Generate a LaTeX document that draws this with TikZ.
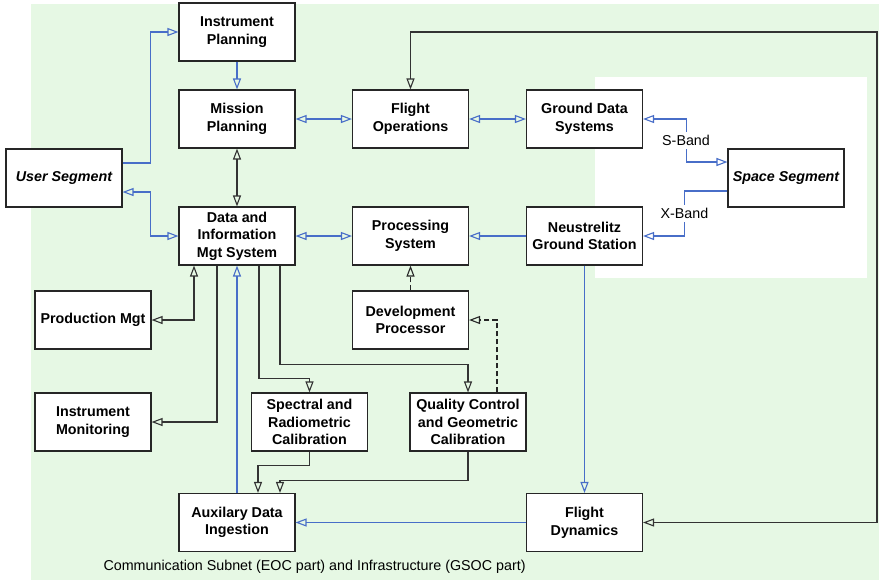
\documentclass[tikz,border=0pt]{standalone}
\usepackage{fontspec}
\setmainfont{Liberation Sans}
\usetikzlibrary{arrows.meta}
\definecolor{bggreen}{RGB}{230,248,228}
\definecolor{linkblue}{RGB}{72,110,200}

\begin{document}
\begin{tikzpicture}[
            x=0.5pt, y=-0.5pt, line width=0.55pt,
            >={Triangle[open, length=5.5pt, width=4pt]},
            box/.style={draw=black!85, fill=white, rectangle, minimum width=58pt, minimum height=29pt, inner sep=0pt, align=center, font=\fontsize{7.15}{8.8}\selectfont\bfseries},
            seg/.style={box, font=\fontsize{7.15}{8.8}\selectfont\bfseries\itshape},
            link/.style={draw=black!80},
            bluelink/.style={draw=linkblue},
            devlink/.style={draw=black!85, dash pattern=on 2.5pt off 1.5pt},
            band/.style={fill=white, inner sep=1.5pt, font=\fontsize{7.15}{8.8}\selectfont},
            caption/.style={anchor=west, inner sep=0pt, font=\fontsize{7.15}{8.8}\selectfont}
        ]

        \useasboundingbox (0, 0) rectangle (879, 580);
        \fill [bggreen] (31, 4) rectangle (879, 580);
        \fill [white] (595, 77) rectangle (867, 278);

        \node [box] (IP) at (237, 32) {Instrument\\Planning};
        \node [box] (MP) at (237, 119) {Mission\\Planning};
        \node [box] (FO) at (410.5, 119) {Flight\\Operations};
        \node [box] (GDS) at (584.5, 119) {Ground Data\\Systems};
        \node [seg] (US) at (64, 178) {User Segment};
        \node [seg] (SS) at (786, 178) {Space Segment};
        \node [box] (DIMS) at (237, 236) {Data and\\Information\\Mgt System};
        \node [box] (PS) at (410.5, 236) {Processing\\System};
        \node [box] (NGS) at (584.5, 236) {Neustrelitz\\Ground Station};
        \node [box] (PM) at (93, 320) {Production Mgt};
        \node [box] (DP) at (410.5, 320) {Development\\Processor};
        \node [box] (IM) at (93, 422) {Instrument\\Monitoring};
        \node [box] (SRC) at (309.5, 422) {Spectral and\\Radiometric\\Calibration};
        \node [box] (QC) at (468, 422) {Quality Control\\and Geometric\\Calibration};
        \node [box] (ADI) at (237, 522.5) {Auxilary Data\\Ingestion};
        \node [box] (FD) at (584.5, 522.5) {Flight\\Dynamics};
        \node [caption] (cap) at (103, 567) {Communication Subnet (EOC part) and Infrastructure (GSOC part)};

        \coordinate (ne) at (877, 32);

        % blue links
        \draw [bluelink, ->] ([yshift=7.5pt]US.east) -- ++(28, 0) |- (IP.west);
        \draw [bluelink, <->] ([yshift=-7pt]US.east) -- ++(28, 0) |- (DIMS.west);
        \draw [bluelink, ->] (IP) -- (MP);
        \draw [bluelink, <->] (MP) -- (FO);
        \draw [bluelink, <->] (FO) -- (GDS);
        \draw [bluelink, <->] (GDS.east) -- ++(43, 0) |- node [band, pos=0.25] {S-Band} ([yshift=8pt]SS.west);
        \draw [bluelink, ->] ([yshift=-6.5pt]SS.west) -- ++(-43, 0) |- node [band, pos=0.25] {X-Band} (NGS.east);
        \draw [bluelink, <->] (DIMS) -- (PS);
        \draw [bluelink, ->] (NGS) -- (PS);
        \draw [bluelink, ->] (ADI) -- (DIMS);
        \draw [bluelink, ->] (NGS) -- (FD);
        \draw [bluelink, ->] (FD) -- (ADI);

        % black links
        \draw [link, <->] (MP) -- (DIMS);
        \draw [link, <->] (PM.east) -| ([xshift=-21.5pt]DIMS.south);
        \draw [link, ->] ([xshift=-10pt]DIMS.south) |- (IM.east);
        \draw [link, ->] ([xshift=11pt]DIMS.south) -- ++(0, 113) -| (SRC.north);
        \draw [link, ->] ([xshift=21.5pt]DIMS.south) -- ++(0, 99) -| (QC.north);
        \draw [link, ->] (SRC.south) -- ++(0, 14) -| ([xshift=10.5pt]ADI.north);
        \draw [link, ->] (QC.south) -- ++(0, 29) -| ([xshift=21.5pt]ADI.north);
        \draw [link, <->] (FO.north) |- (ne) |- (FD.east);
        \draw [devlink, ->] (DP) -- (PS);
        \draw [devlink, ->] ([xshift=14.5pt]QC.north) |- (DP.east);

        \end{tikzpicture}
\end{document}
